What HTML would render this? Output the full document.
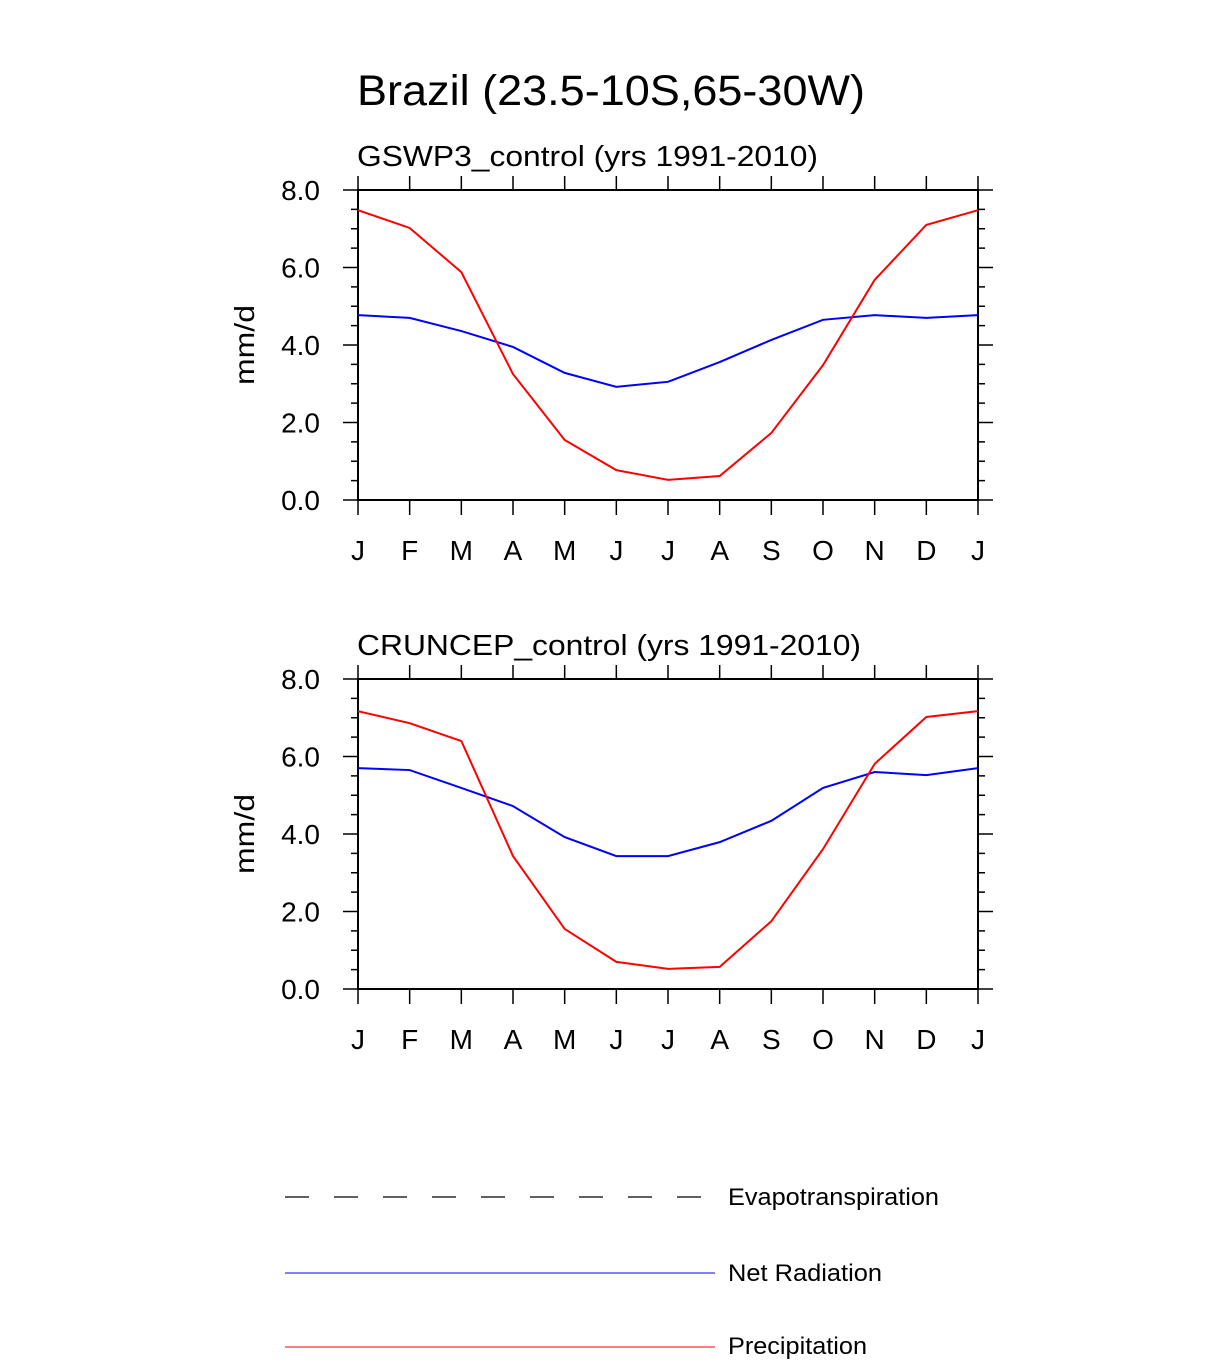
<!DOCTYPE html>
<html><head><meta charset="utf-8"><style>
body{margin:0;background:#fff;font-family:"Liberation Sans",sans-serif}
svg text{font-family:"Liberation Sans",sans-serif}
</style></head><body>
<svg id="c" width="1224" height="1360">
<text x="357" y="105" font-size="43" textLength="508" lengthAdjust="spacingAndGlyphs">Brazil (23.5-10S,65-30W)</text>
<g>
<line x1="285" y1="1197" x2="715" y2="1197" stroke="#000" stroke-width="1.2" stroke-dasharray="24,25"/>
<text x="728" y="1205" font-size="24" textLength="211" lengthAdjust="spacingAndGlyphs">Evapotranspiration</text>
<line x1="285" y1="1273" x2="715" y2="1273" stroke="#0000ff" stroke-width="1"/>
<text x="728" y="1281" font-size="24" textLength="154" lengthAdjust="spacingAndGlyphs">Net Radiation</text>
<line x1="285" y1="1347" x2="715" y2="1347" stroke="#ff0000" stroke-width="1"/>
<text x="728" y="1354" font-size="24" textLength="139" lengthAdjust="spacingAndGlyphs">Precipitation</text>
</g>
</svg>
<script>
const months=["J","F","M","A","M","J","J","A","S","O","N","D","J"];
const yTicks=[0,2,4,6,8];
const titles=["GSWP3_control (yrs 1991-2010)","CRUNCEP_control (yrs 1991-2010)"];
const titleLens=[461,504];
const precip1=[7.48,7.02,5.88,3.25,1.55,0.77,0.52,0.62,1.73,3.48,5.68,7.10,7.48];
const netrad1=[4.77,4.70,4.36,3.95,3.28,2.92,3.05,3.56,4.13,4.65,4.77,4.70,4.77];
const precip2=[7.17,6.86,6.40,3.43,1.55,0.70,0.52,0.57,1.75,3.61,5.81,7.02,7.17];
const netrad2=[5.70,5.65,5.19,4.72,3.92,3.43,3.43,3.79,4.34,5.19,5.60,5.52,5.70];
const NS="http://www.w3.org/2000/svg";
const svg=document.getElementById('c');
function mk(t,a,p){const e=document.createElementNS(NS,t);for(const k in a)e.setAttribute(k,a[k]);(p||svg).appendChild(e);return e;}
function panel(top,title,tl,pr,nr,idx){
  const L=358,R=978,T=top,B=top+310;
  const g=mk('g',{});
  
  
  const X=i=>L+(R-L)*i/12, Y=v=>B-(B-T)*v/8;
  const tt=mk('text',{x:357,y:T-24,'font-size':29,textLength:tl,lengthAdjust:'spacingAndGlyphs'},g);tt.textContent=title;
  
  
  const yl=mk('text',{x:0,y:0,'font-size':28,'text-anchor':'middle',textLength:80,lengthAdjust:'spacingAndGlyphs',transform:`translate(254,${(T+B)/2}) rotate(-90)`},g);yl.textContent="mm/d";
  
  
  for(let v=0;v<=8.001;v+=0.5){
    const maj=Math.abs(v-Math.round(v/2)*2)<1e-6, len=maj?15:7;
    mk('line',{x1:L-len,y1:Y(v),x2:L,y2:Y(v),stroke:'#000','stroke-width':1.5},g);
    mk('line',{x1:R,y1:Y(v),x2:R+len,y2:Y(v),stroke:'#000','stroke-width':1.5},g);
  }
  yTicks.forEach(v=>{const t=mk('text',{x:320,y:Y(v)+10,'font-size':28,'text-anchor':'end'},g);t.textContent=v.toFixed(1);
    
    });
  months.forEach((m,i)=>{
    mk('line',{x1:X(i),y1:T-14,x2:X(i),y2:T,stroke:'#000','stroke-width':1.5},g);
    mk('line',{x1:X(i),y1:B,x2:X(i),y2:B+15,stroke:'#000','stroke-width':1.5},g);
    const t=mk('text',{x:X(i),y:B+60,'font-size':28,'text-anchor':'middle'},g);t.textContent=m;
    
    
  });
  const fr=mk('rect',{x:L,y:T,width:R-L,height:B-T,fill:'none',stroke:'#000','stroke-width':2},g);
  
  
  const pts=a=>a.map((v,i)=>X(i)+','+Y(v)).join(' ');
  const nl=mk('polyline',{points:pts(nr),fill:'none',stroke:'#0000ff','stroke-width':2},g);
  
  
  const pl=mk('polyline',{points:pts(pr),fill:'none',stroke:'#ff0000','stroke-width':2},g);
  
  
}
panel(190,titles[0],titleLens[0],precip1,netrad1,0);
panel(679,titles[1],titleLens[1],precip2,netrad2,1);
</script>
</body></html>
